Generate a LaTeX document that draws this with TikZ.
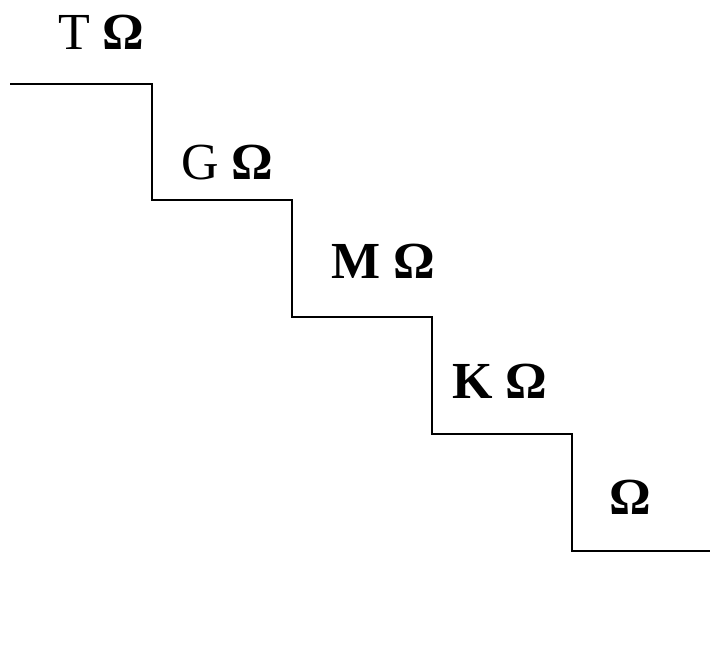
\documentclass[tikz,border=0pt]{standalone}
\usepackage{fontspec}
\setmainfont{Liberation Serif}
\begin{document}
\begin{tikzpicture}[x=1pt,y=-1pt,
  lbl/.style={anchor=base west,inner sep=0pt,font=\fontsize{52}{52}\selectfont},
  stair/.style={line width=1.8pt,black}]
\useasboundingbox (0,0) rectangle (710,664);
\coordinate (s0) at (10,84);
\coordinate (s1) at (152,84);
\coordinate (s2) at (152,200);
\coordinate (s3) at (292,200);
\coordinate (s4) at (292,317);
\coordinate (s5) at (432,317);
\coordinate (s6) at (432,434);
\coordinate (s7) at (572,434);
\coordinate (s8) at (572,551);
\coordinate (s9) at (710,551);
\draw[stair] (s0) -- (s1) -- (s2) -- (s3) -- (s4) -- (s5) -- (s6) -- (s7) -- (s8) -- (s9);
\node[lbl] (t) at (58,49) {T \textbf{Ω}};
\node[lbl] (g) at (181,179) {G \textbf{Ω}};
\node[lbl] (m) at (331,278) {\textbf{M Ω}};
\node[lbl] (k) at (452,398) {\textbf{K Ω}};
\node[lbl] (o) at (609,514) {\textbf{Ω}};
\end{tikzpicture}
\end{document}
